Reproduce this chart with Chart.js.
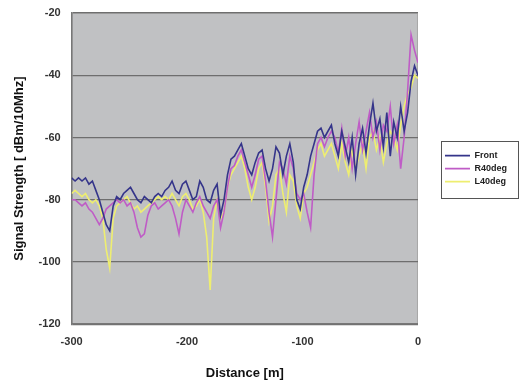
<!DOCTYPE html>
<html>
<head>
<meta charset="utf-8">
<script src="https://cdn.jsdelivr.net/npm/chart.js@4.4.1/dist/chart.umd.min.js"></script>
<style>
  html, body { margin: 0; padding: 0; background: #ffffff; }
  #wrap { width: 528px; height: 381px; }
</style>
</head>
<body>
<div id="wrap"><canvas id="line_signal" width="528" height="381"></canvas></div>
<script>
/* data: distance grid is every 3 m from -300 to 0 */
const distances = [];
for(let d = -300; d <= 0; d += 3){ distances.push(d); };

const front = [
  -73,-74,-73,-74,-73,-75,-74,-77,-80,-84,
  -88,-90,-82,-79,-80,-78,-77,-76,-78,-80,
  -81,-79,-80,-81,-79,-78,-79,-77,-76,-74,
  -77,-78,-75,-74,-77,-80,-79,-74,-76,-80,
  -81,-77,-75,-85,-80,-72,-67,-66,-64,-62,
  -66,-70,-72,-68,-65,-64,-70,-74,-70,-63,
  -65,-72,-66,-62,-68,-80,-83,-76,-72,-66,
  -62,-58,-57,-60,-58,-56,-62,-66,-58,-63,
  -68,-60,-72,-62,-57,-65,-56,-49,-58,-54,
  -63,-52,-66,-55,-60,-50,-58,-52,-42,-37,
  -40
];
const r40deg = [
  -80,-80,-81,-82,-81,-83,-84,-86,-88,-86,
  -83,-82,-81,-80,-81,-80,-82,-81,-84,-89,
  -92,-91,-85,-82,-81,-83,-82,-81,-80,-82,
  -86,-91,-84,-80,-82,-84,-81,-79,-82,-84,
  -86,-82,-80,-89,-84,-76,-70,-69,-66,-64,
  -68,-72,-76,-72,-67,-66,-74,-84,-92,-80,
  -68,-70,-75,-66,-70,-78,-80,-78,-84,-89,
  -72,-62,-60,-63,-60,-58,-60,-65,-57,-66,
  -60,-70,-62,-55,-64,-58,-52,-60,-55,-64,
  -56,-58,-50,-62,-56,-70,-60,-45,-27,-32,
  -36
];
const l40deg = [
  -78,-77,-78,-79,-78,-80,-81,-80,-82,-86,
  -96,-102,-86,-82,-81,-80,-79,-81,-83,-82,
  -84,-83,-82,-81,-80,-79,-80,-79,-80,-78,
  -80,-82,-79,-78,-80,-83,-82,-80,-84,-92,
  -109,-86,-80,-86,-84,-76,-72,-70,-68,-66,
  -70,-76,-80,-76,-70,-68,-76,-87,-82,-72,
  -70,-78,-84,-72,-74,-82,-86,-78,-76,-72,
  -68,-64,-62,-66,-64,-62,-66,-70,-62,-68,
  -72,-64,-70,-66,-62,-70,-60,-58,-64,-60,
  -68,-62,-58,-60,-64,-56,-50,-46,-44,-40,
  -41
];
const seriesNames  = ['Front', 'R40deg', 'L40deg'];
const seriesColors = ['#35358a', '#bf5cc6', '#eeee70'];
const xTicks = [-300, -200, -100, 0];
const yTicks = [-120, -100, -80, -60, -40, -20];

const toPoints = (vals)=>vals.map((v, i)=>({x: distances[i], y: v}));

/* plot background, legend shift + legend frame */
const plotBg = {
  id: 'plotBg',
  afterLayout: (chart)=>{
    const lg = chart.legend;
    if(!lg){ return; };
    lg.left  += 23; // legend sits a bit right of the plot in the original
    lg.right += 23;
  },
  beforeDraw: (chart)=>{
    const a = chart.chartArea;
    const ctx = chart.ctx;
    ctx.save();
    ctx.fillStyle = '#c0c1c3';
    ctx.fillRect(a.left, a.top, a.right - a.left, a.bottom - a.top);
    ctx.strokeStyle = '#a8a8a8';
    ctx.lineWidth = 1;
    ctx.strokeRect(a.left + 0.5, a.top + 0.5, a.right - a.left - 1, a.bottom - a.top - 1);
    ctx.restore();
  },
  afterDraw: (chart)=>{
    const lg = chart.legend;
    if(!lg || !lg.legendHitBoxes.length){ return; };
    const boxes = lg.legendHitBoxes;
    const ctx = chart.ctx;
    let l = Math.min(...boxes.map(b=>b.left)) - 4;
    let t = Math.min(...boxes.map(b=>b.top));
    let btm = Math.max(...boxes.map(b=>b.top + b.height));
    let mid = (t + btm) / 2;
    ctx.save();
    ctx.strokeStyle = '#555555';
    ctx.lineWidth = 1;
    ctx.strokeRect(Math.round(l) + 0.5, Math.round(mid - 28) + 0.5, 77, 57);
    ctx.restore();
  }
};

const datasets = [front, r40deg, l40deg].map((vals, i)=>({
  label: seriesNames[i],
  data: toPoints(vals),
  borderColor: seriesColors[i],
  backgroundColor: seriesColors[i],
  borderWidth: 1.6,
  pointRadius: 0,
  tension: 0
}));

const fontFamily = '"Liberation Sans", Arial, sans-serif';

new Chart(document.querySelector('#line_signal').getContext('2d'), {
  type: 'line',
  data: { datasets: datasets },
  plugins: [plotBg],
  options: {
    responsive: false,
    animation: false,
    layout: { padding: { left: 12, right: 34, top: 13, bottom: 0 } },
    plugins: {
      legend: {
        position: 'right',
        fullSize: false,
        labels: {
          usePointStyle: true,
          pointStyle: 'line',
          pointStyleWidth: 25,
          boxHeight: 9,
          padding: 4,
          color: '#222222',
          font: { family: fontFamily, size: 9, weight: 'bold' }
        }
      },
      tooltip: { enabled: false }
    },
    scales: {
      x: {
        type: 'linear',
        min: -300,
        max: 0,
        afterBuildTicks: (axis)=>{ axis.ticks = xTicks.map(v=>({value: v})); },
        grid: { display: false, drawTicks: false },
        border: { display: true, color: '#777777', width: 1.5 },
        ticks: {
          padding: 11,
          color: '#333333',
          font: { family: fontFamily, size: 11, weight: 'bold' }
        },
        title: {
          display: true,
          text: 'Distance [m]',
          color: '#111111',
          padding: { top: 6, bottom: 0 },
          font: { family: fontFamily, size: 13, weight: 'bold' }
        }
      },
      y: {
        min: -120,
        max: -20,
        afterBuildTicks: (axis)=>{ axis.ticks = yTicks.map(v=>({value: v})); },
        grid: { color: '#6e6e6e', lineWidth: 1.2, drawTicks: true, tickLength: 9, tickColor: 'rgba(0,0,0,0)' },
        border: { display: true, color: '#777777', width: 1.5 },
        ticks: {
          padding: 2,
          color: '#333333',
          font: { family: fontFamily, size: 11, weight: 'bold' }
        },
        title: {
          display: true,
          text: 'Signal Strength [ dBm/10Mhz]',
          color: '#111111',
          padding: { top: 0, bottom: 9 },
          font: { family: fontFamily, size: 13, weight: 'bold' }
        }
      }
    }
  }
});
</script>
</body>
</html>
